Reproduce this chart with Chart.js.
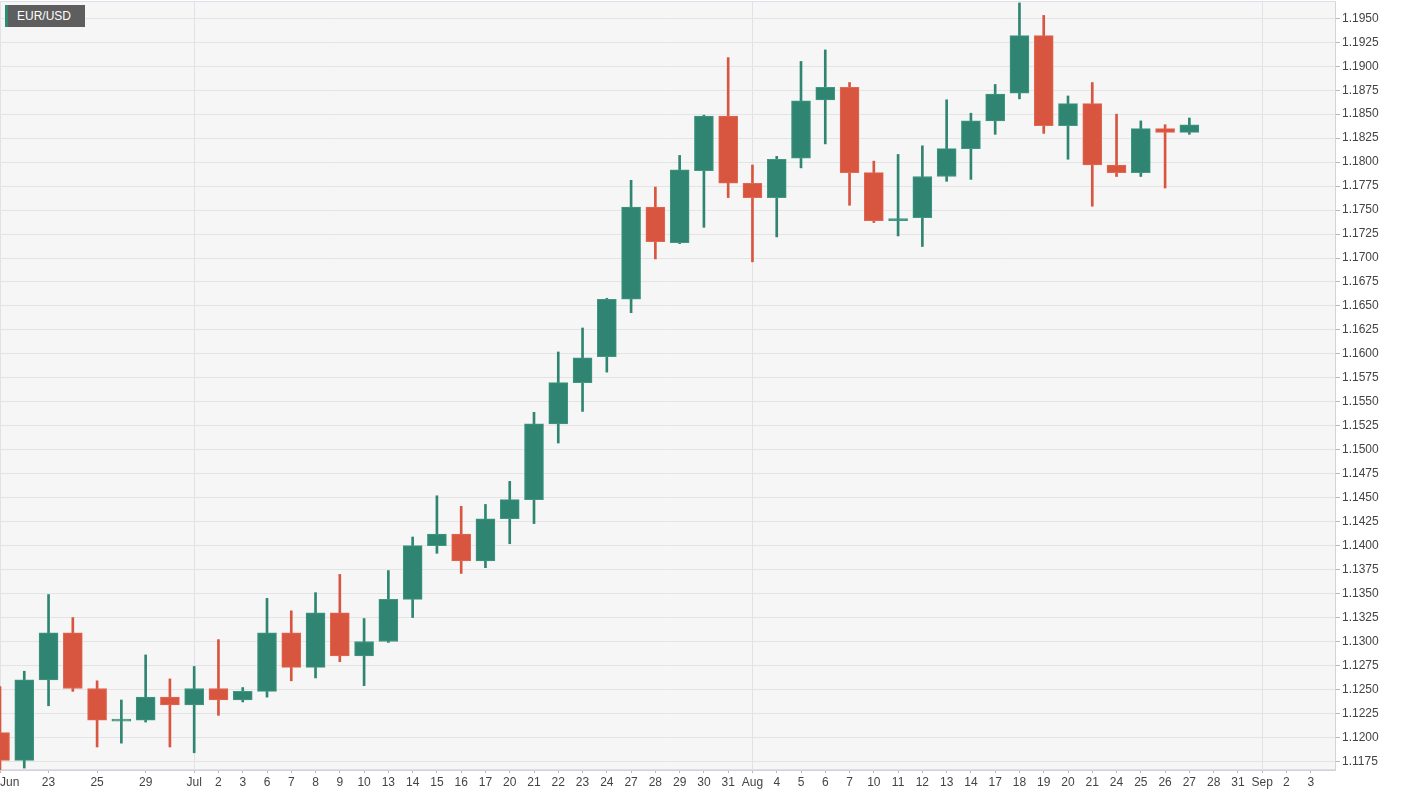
<!DOCTYPE html>
<html>
<head>
<meta charset="utf-8">
<script src="https://cdn.jsdelivr.net/npm/chart.js@4.4.1/dist/chart.umd.min.js"></script>
<style>
  html, body { margin: 0; padding: 0; background: #ffffff; }
  #wrap { position: relative; width: 1405px; height: 795px; }
  #title {
    position: absolute; left: 5px; top: 5px; width: 68px; height: 22px;
    background: #5e5e5e; border-left: 3px solid #2e8a70; color: #ffffff;
    font: 12px "Liberation Sans", Arial, sans-serif; line-height: 22px; padding-left: 9px;
  }
</style>
</head>
<body>
<div id="wrap">
  <canvas id="c" width="1405" height="795"></canvas>
  <div id="title">EUR/USD</div>
</div>
<script>
// Trading days (Jun 19 2020 – Sep 4 2020)
const categories = ['Jun 19','Jun 22','Jun 23','Jun 24','Jun 25','Jun 26','Jun 29','Jun 30',
  'Jul 1','Jul 2','Jul 3','Jul 6','Jul 7','Jul 8','Jul 9','Jul 10','Jul 13','Jul 14','Jul 15','Jul 16','Jul 17',
  'Jul 20','Jul 21','Jul 22','Jul 23','Jul 24','Jul 27','Jul 28','Jul 29','Jul 30','Jul 31',
  'Aug 3','Aug 4','Aug 5','Aug 6','Aug 7','Aug 10','Aug 11','Aug 12','Aug 13','Aug 14','Aug 17','Aug 18',
  'Aug 19','Aug 20','Aug 21','Aug 24','Aug 25','Aug 26','Aug 27','Aug 28','Aug 31',
  'Sep 1','Sep 2','Sep 3','Sep 4'];

// Axis tick labels shown under each category ('' = no label / no tick)
const tickLabels = ['Jun','','23','','25','','29','',
  'Jul','2','3','6','7','8','9','10','13','14','15','16','17',
  '20','21','22','23','24','27','28','29','30','31',
  'Aug','4','5','6','7','10','11','12','13','14','17','18',
  '19','20','21','24','25','26','27','28','31',
  'Sep','2','3',''];

const openV  = [1.1205,1.1176,1.1260,1.1309,1.1251,1.1217,1.1218,1.1242,
  1.1234,1.1251,1.1239,1.1248,1.1309,1.1273,1.1330,1.1285,1.1300,1.1344,1.1400,1.1412,1.1384,
  1.1428,1.1448,1.1527,1.1570,1.1597,1.1657,1.1753,1.1716,1.1791,1.1848,
  1.1778,1.1763,1.1804,1.1865,1.1878,1.1789,1.1739,1.1742,1.1785,1.1814,1.1843,1.1872,
  1.1932,1.1838,1.1861,1.1797,1.1789,1.1835,1.1831,null,null,null,null,null,null];
const highV  = [1.1253,1.1269,1.1349,1.1325,1.1259,1.1239,1.1286,1.1261,
  1.1274,1.1302,1.1252,1.1345,1.1332,1.1351,1.1370,1.1324,1.1374,1.1409,1.1452,1.1441,1.1443,
  1.1467,1.1539,1.1602,1.1627,1.1658,1.1781,1.1774,1.1807,1.1849,1.1909,
  1.1797,1.1806,1.1905,1.1917,1.1883,1.1801,1.1808,1.1817,1.1865,1.1851,1.1881,1.1966,
  1.1953,1.1869,1.1883,1.1850,1.1843,1.1839,1.1846,null,null,null,null,null,null];
const lowV   = [1.1160,1.1168,1.1233,1.1248,1.1190,1.1194,1.1216,1.1190,
  1.1184,1.1223,1.1237,1.1242,1.1259,1.1262,1.1279,1.1254,1.1299,1.1325,1.1392,1.1371,1.1377,
  1.1402,1.1423,1.1507,1.1540,1.1581,1.1643,1.1699,1.1715,1.1732,1.1763,
  1.1696,1.1722,1.1794,1.1819,1.1755,1.1737,1.1723,1.1712,1.1780,1.1782,1.1829,1.1866,
  1.1830,1.1803,1.1754,1.1785,1.1785,1.1773,1.1829,null,null,null,null,null,null];
const closeV = [1.1176,1.1260,1.1309,1.1251,1.1218,1.1218,1.1242,1.1234,
  1.1251,1.1239,1.1248,1.1309,1.1273,1.1330,1.1285,1.1300,1.1344,1.1400,1.1412,1.1384,1.1428,
  1.1448,1.1527,1.1570,1.1596,1.1657,1.1753,1.1717,1.1792,1.1848,1.1778,
  1.1763,1.1803,1.1864,1.1878,1.1789,1.1739,1.1740,1.1785,1.1814,1.1843,1.1871,1.1932,
  1.1838,1.1861,1.1797,1.1789,1.1835,1.1831,1.1839,null,null,null,null,null,null];

const yTicks = [1.1175,1.1200,1.1225,1.1250,1.1275,1.1300,1.1325,1.1350,1.1375,1.1400,
  1.1425,1.1450,1.1475,1.1500,1.1525,1.1550,1.1575,1.1600,1.1625,1.1650,1.1675,1.1700,
  1.1725,1.1750,1.1775,1.1800,1.1825,1.1850,1.1875,1.1900,1.1925,1.1950];

const UP = '#2f8571', UP_EDGE = '#3e9882', DOWN = '#d8553f', DOWN_EDGE = '#e2684f';
const isUp = i => closeV[i] >= openV[i];

const bodies = openV.map((o, i) => o == null ? null : [o, closeV[i]]);
const wicks  = lowV.map((l, i) => l == null ? null : [l, highV[i]]);

const plotBg = {
  id: 'plotBg',
  beforeDraw(chart) {
    const { ctx, chartArea: a } = chart;
    ctx.save();
    ctx.fillStyle = '#f6f6f6';
    ctx.fillRect(a.left, a.top, a.right - a.left, a.bottom - a.top);
    ctx.strokeStyle = '#dedde8';
    ctx.lineWidth = 1;
    ctx.strokeRect(a.left + 0.5, a.top - 0.5, a.right - a.left, a.bottom - a.top);
    ctx.restore();
  }
};

const isMonth = i => tickLabels[i] && isNaN(Number(tickLabels[i]));

new Chart(document.getElementById('c'), {
  type: 'bar',
  data: {
    labels: categories,
    datasets: [
      {
        label: 'body',
        data: bodies,
        order: 1,
        grouped: false,
        barThickness: 19,
        minBarLength: 2,
        borderWidth: 1,
        borderSkipped: false,
        backgroundColor: ctx => isUp(ctx.dataIndex) ? UP : DOWN,
        borderColor: ctx => isUp(ctx.dataIndex) ? UP_EDGE : DOWN_EDGE
      },
      {
        label: 'wick',
        data: wicks,
        order: 2,
        grouped: false,
        barThickness: 2,
        borderWidth: 0,
        backgroundColor: ctx => isUp(ctx.dataIndex) ? UP : DOWN
      }
    ]
  },
  options: {
    responsive: false,
    animation: false,
    events: [],
    layout: { padding: { top: 2, left: 0, right: 0, bottom: 0 } },
    plugins: { legend: { display: false }, tooltip: { enabled: false } },
    scales: {
      x: {
        type: 'category',
        offset: false,
        grid: {
          offset: false,
          color: ctx => isMonth(ctx.index) ? '#e2e2e6' : 'rgba(0,0,0,0)',
          tickColor: ctx => tickLabels[ctx.index] ? '#b8b8b8' : 'rgba(0,0,0,0)',
          tickLength: 3,
          drawOnChartArea: true
        },
        border: { display: true, color: '#d4d4d8' },
        ticks: {
          autoSkip: false,
          maxRotation: 0,
          minRotation: 0,
          align: 'inner',
          padding: 2,
          color: '#444444',
          font: { family: '"Liberation Sans", Arial, sans-serif', size: 12 },
          callback: (v, i) => tickLabels[i]
        },
        afterFit: s => { s.height = 25; s.paddingLeft = 0; s.paddingRight = 0; }
      },
      y: {
        position: 'right',
        min: 1.1166,
        max: 1.1967,
        afterBuildTicks: s => { s.ticks = yTicks.map(v => ({ value: v })); },
        grid: { color: '#e4e4e4', tickColor: '#b8b8b8', tickLength: 5 },
        border: { display: true, color: '#d4d4d8' },
        ticks: {
          padding: 2,
          color: '#444444',
          font: { family: '"Liberation Sans", Arial, sans-serif', size: 12 },
          callback: v => Number(v).toFixed(4)
        },
        afterFit: s => { s.width = 70; s.paddingTop = 0; s.paddingBottom = 0; }
      }
    }
  },
  plugins: [plotBg]
});
</script>
</body>
</html>
